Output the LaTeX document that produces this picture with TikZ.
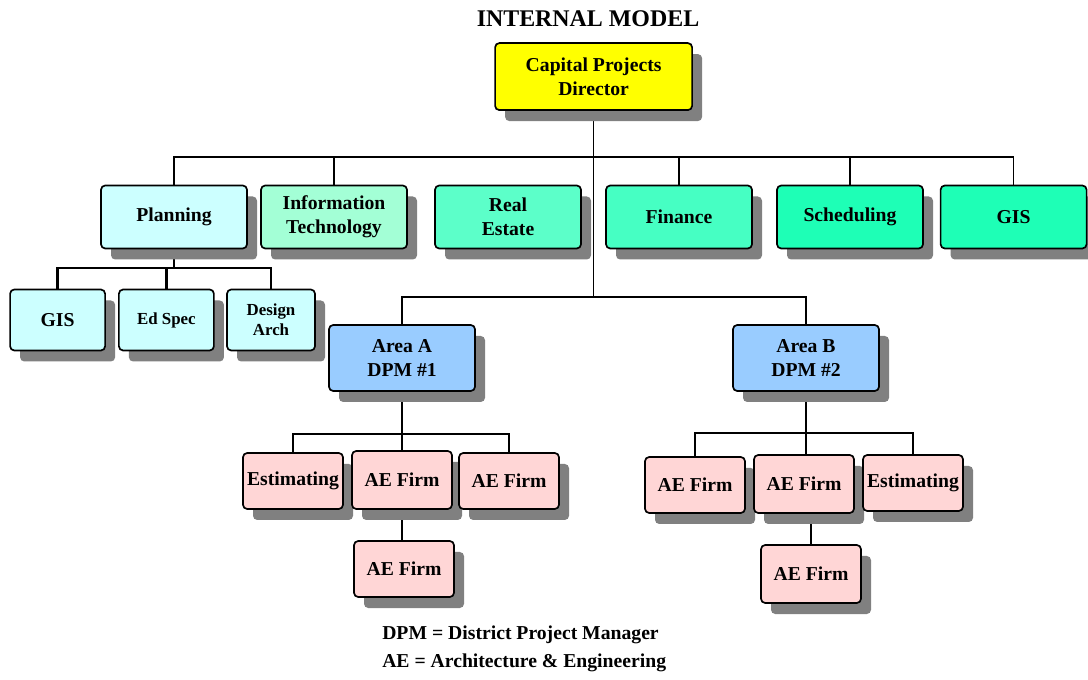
\documentclass[tikz,border=0pt]{standalone}
\usepackage{fontspec}
\setmainfont{Liberation Serif}
\usetikzlibrary{shadows,backgrounds}
\definecolor{dirfill}{HTML}{FFFF00}
\definecolor{planfill}{HTML}{CCFFFF}
\definecolor{itfill}{HTML}{A3FFD6}
\definecolor{refill}{HTML}{5CFFC9}
\definecolor{finfill}{HTML}{46FFC3}
\definecolor{schfill}{HTML}{1EFFB6}
\definecolor{areafill}{HTML}{99CCFF}
\definecolor{firmfill}{HTML}{FFD6D6}
\begin{document}
\begin{tikzpicture}[every node/.style={font=\fontsize{14}{17}\selectfont\bfseries},
  ostyle/.style={draw,line width=1.2pt,rounded corners=3pt,align=center,inner sep=1pt,
    drop shadow={shadow xshift=0.25cm,shadow yshift=-0.275cm,fill=black!50,opacity=1}},
  dept/.style={ostyle,minimum width=3.65cm,minimum height=1.575cm},
  sub/.style={ostyle,minimum width=2.375cm,minimum height=1.525cm},
  area/.style={ostyle,fill=areafill,minimum width=3.65cm,minimum height=1.65cm},
  firm/.style={ostyle,fill=firmfill,minimum width=2.5cm,minimum height=1.4cm},
  link/.style={line width=1pt},
  blink/.style={line width=2pt}]
\useasboundingbox (0,0) rectangle (27.2,16.975);
% title and director
\node[font=\fontsize{17}{20}\selectfont\bfseries] (title) at (14.7,16.5) {INTERNAL MODEL};
\node[ostyle,fill=dirfill,minimum width=4.925cm,minimum height=1.675cm] (dir) at (14.84,15.06) {Capital Projects\\Director};
% departments
\node[dept,fill=planfill] (plan) at (4.35,11.55) {Planning};
\node[dept,fill=itfill] (it) at (8.35,11.55) {Information\\Technology};
\node[dept,fill=refill] (re) at (12.7,11.55) {Real\\Estate};
\node[dept,fill=finfill] (fin) at (16.975,11.55) {Finance};
\node[dept,fill=schfill] (sch) at (21.25,11.55) {Scheduling};
\node[dept,fill=schfill] (gis) at (25.34,11.55) {GIS};
% planning groups
\node[sub,fill=planfill] (pgis) at (1.44,8.975) {GIS};
\node[sub,fill=planfill,font=\fontsize{12}{14}\selectfont\bfseries] (ped) at (4.16,8.975) {Ed Spec};
\node[sub,fill=planfill,minimum width=2.2cm,font=\fontsize{12}{14}\selectfont\bfseries] (pdes) at (6.775,8.975) {Design\\Arch};
% areas
\node[area] (aa) at (10.05,8.025) {Area A\\DPM \#1};
\node[area] (ab) at (20.15,8.025) {Area B\\DPM \#2};
% area A firms
\node[firm] (aest) at (7.325,4.95) {Estimating};
\node[firm,minimum height=1.45cm] (afirm1) at (10.05,4.975) {AE Firm};
\node[firm] (afirm2) at (12.725,4.95) {AE Firm};
\node[firm] (afirm3) at (10.1,2.75) {AE Firm};
% area B firms
\node[firm] (bfirm1) at (17.375,4.85) {AE Firm};
\node[firm,minimum height=1.45cm] (bfirm2) at (20.1,4.875) {AE Firm};
\node[firm] (best) at (22.825,4.9) {Estimating};
\node[firm,minimum height=1.45cm] (bfirm3) at (20.275,2.625) {AE Firm};
% legend
\node[anchor=west,inner sep=0pt] (leg1) at (9.55,1.1) {DPM = District Project Manager};
\node[anchor=west,inner sep=0pt] (leg2) at (9.55,0.4) {AE = Architecture \& Engineering};
% connectors
\coordinate (topbar) at (14.84,13.05);
\coordinate (planbar) at (4.35,10.275);
\coordinate (areabar) at (14.84,9.55);
\coordinate (abar) at (10.05,6.125);
\coordinate (bbar) at (20.15,6.15);
\begin{scope}[on background layer]
\draw[link] (dir.south) -- (areabar);
\draw[link] (plan.north) |- (topbar) -| (gis.north);
\draw[link] (it.north) -- (it.north |- topbar);
\draw[link] (fin.north) -- (fin.north |- topbar);
\draw[link] (sch.north) -- (sch.north |- topbar);
\draw[blink] (plan.south) -- (planbar);
\draw[blink] (pgis.north) |- (planbar) -| (pdes.north);
\draw[blink] (ped.north) -- (ped.north |- planbar);
\draw[blink] (aa.north) |- (areabar) -| (ab.north);
\draw[blink] (aa.south) -- (aa.south |- afirm1.north);
\draw[link] (aest.north) |- (abar) -| (afirm2.north);
\draw[blink] (afirm1.south) -- (afirm1.south |- afirm3.north);
\draw[blink] (ab.south) -- (ab.south |- bfirm2.north);
\draw[blink] (bfirm1.north) |- (bbar) -| (best.north);
\draw[blink] (bfirm3.north) -- (bfirm3.north |- bfirm2.south);
\end{scope}
\end{tikzpicture}
\end{document}
